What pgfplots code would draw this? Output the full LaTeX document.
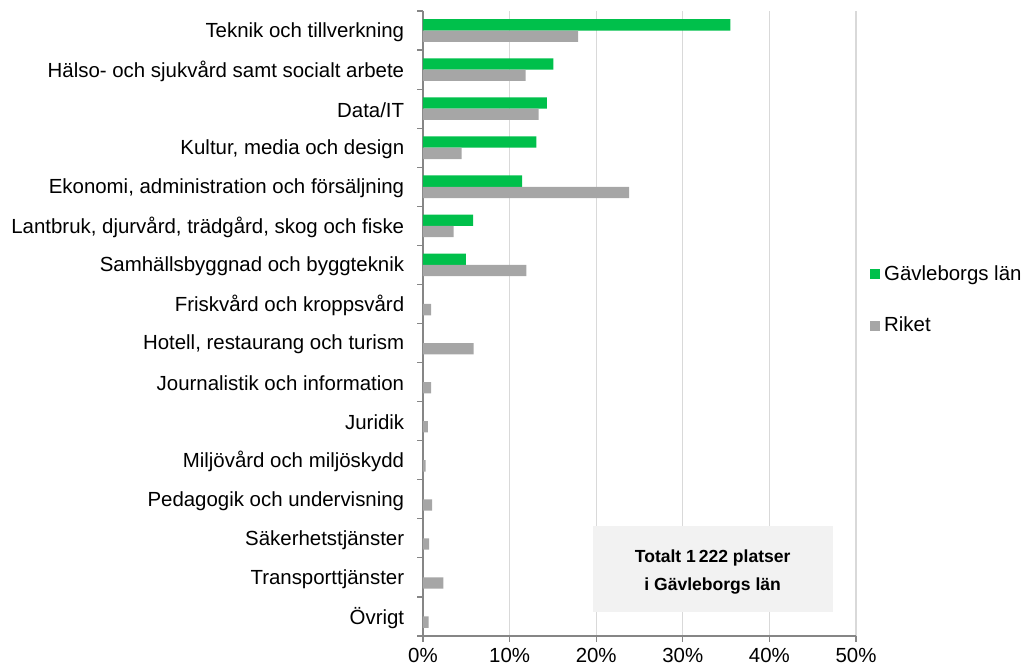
\documentclass[border=0pt]{standalone}
\usepackage{pgfplots}
\pgfplotsset{compat=1.18}
\usepackage{fontspec}
\setmainfont{Liberation Sans}
\definecolor{cgreen}{RGB}{0,192,75}
\definecolor{cgray}{RGB}{166,166,166}
\definecolor{gridc}{RGB}{217,217,217}
\definecolor{axisgray}{RGB}{134,134,134}
\definecolor{boxfill}{RGB}{242,242,242}
\begin{document}
\begin{tikzpicture}
\path[use as bounding box] (-211.5bp,-16bp) rectangle (302bp,318bp);
\begin{axis}[
  at={(0,0)}, anchor=south west, scale only axis,
  width=216.5bp, height=312.5bp,
  font=\fontsize{10.25}{12}\selectfont,
  xbar, bar width=5.65bp,
  xmin=0, xmax=50, ymin=-0.5, ymax=15.5, y dir=reverse,
  xtick={0,10,...,50},
  xticklabel={\pgfmathprintnumber{\tick}\%},
  /pgf/number format/assume math mode=true,
  ytick={-0.5,0.5,...,15.5},
  yticklabels={Teknik och tillverkning,
    Hälso- och sjukvård samt socialt arbete,
    Data/IT,
    {Kultur, media och design},
    {Ekonomi, administration och försäljning},
    {Lantbruk, djurvård, trädgård, skog och fiske},
    Samhällsbyggnad och byggteknik,
    Friskvård och kroppsvård,
    {Hotell, restaurang och turism},
    Journalistik och information,
    Juridik,
    Miljövård och miljöskydd,
    Pedagogik och undervisning,
    Säkerhetstjänster,
    Transporttjänster,
    Övrigt, {}},
  yticklabel style={xshift=-3.1bp, yshift=-10.5bp},
  tick align=outside,
  major tick length=2.8bp,
  tick style={axisgray, line width=0.6bp},
  axis x line*=bottom, axis y line*=left,
  axis line style={axisgray, line width=0.6bp},
  xmajorgrids, ymajorgrids=false, major grid style={gridc, line width=0.6bp},
  legend style={draw=none, fill=none, at={(1.018,0.5376)}, anchor=west,
    row sep=13bp, font=\fontsize{10.25}{12}\selectfont,
    nodes={inner xsep=2bp}},
  legend cell align=left,
]
\addplot[fill=cgreen, draw=none, bar shift=2.83bp,
  legend image code/.code={\fill[cgreen] (0bp,-2.5bp) rectangle (5bp,2.5bp);}]
  coordinates {(35.5,0) (15.05,1) (14.3,2) (13.1,3) (11.45,4) (5.8,5) (4.95,6)};
\addlegendentry{Gävleborgs län}
\addplot[fill=cgray, draw=none, bar shift=-2.83bp,
  legend image code/.code={\fill[cgray] (0bp,-2.5bp) rectangle (5bp,2.5bp);}]
  coordinates {(17.9,0) (11.85,1) (13.35,2) (4.45,3) (23.8,4) (3.55,5) (11.95,6)
  (0.95,7) (5.85,8) (0.95,9) (0.55,10) (0.3,11) (1.05,12) (0.7,13) (2.35,14) (0.65,15)};
\addlegendentry{Riket}
\node[fill=boxfill, minimum width=119.9bp, minimum height=42.9bp] at (axis cs:33.45,13.79) {};
\node[align=center, yshift=-1.5bp,
  font=\bfseries\fontsize{8.8}{14}\selectfont] at (axis cs:33.45,13.79)
  {Totalt 1\,222 platser\\i Gävleborgs län};
\end{axis}
\end{tikzpicture}
\end{document}
